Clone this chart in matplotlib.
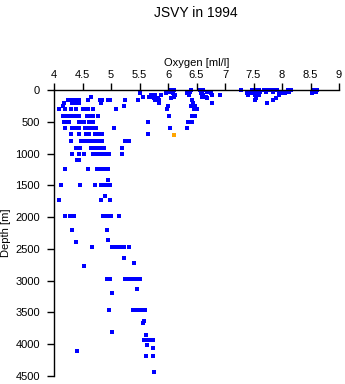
import matplotlib
matplotlib.use("Agg")
import matplotlib.pyplot as plt

# depth levels [m] and the oxygen readings [ml/l] found at each level
depth_levels = [5, 25, 55, 80, 105, 130, 160, 210, 250, 305, 405, 510, 605, 700,
                805, 905, 1000, 1105, 1250, 1420, 1495, 1660, 1737, 1990, 2210,
                2358, 2390, 2474, 2642, 2721, 2763, 2974, 3132, 3195, 3463, 3632,
                3668, 3810, 3852, 3926, 4016, 4053, 4105, 4190, 4432]
oxygen_at_level = [
    [6.05, 6.1, 6.4, 6.56, 6.62, 7.28, 7.47, 7.52, 7.6, 7.68, 7.75, 7.8, 7.88, 7.92, 8.1, 8.15, 8.55, 8.62],
    [6.0, 6.04, 6.38, 6.6, 6.68, 7.45, 7.5, 7.55, 7.62, 7.72, 7.85, 7.95, 8.12, 8.6],
    [5.5, 5.97, 6.08, 6.33, 6.58, 6.75, 7.38, 7.43, 7.5, 7.58, 8.0, 8.05, 8.53],
    [5.7, 5.77, 5.88, 6.12, 6.36, 6.62, 6.78, 6.92, 7.4, 7.52, 7.6, 7.95],
    [4.65, 5.56, 5.66, 5.72, 5.76, 6.1, 6.6, 6.66],
    [5.75, 5.82, 6.05, 6.68, 7.55, 7.9],
    [4.24, 4.32, 4.38, 4.44, 4.59, 4.8, 4.85, 4.94, 4.98, 5.25, 5.47, 5.78, 5.84, 6.42, 7.53, 7.85],
    [4.18, 4.32, 4.38, 4.43, 4.82, 5.84, 6.44, 6.78, 7.73],
    [4.16, 5.22, 6.0, 6.41, 6.47],
    [4.09, 4.19, 4.29, 4.38, 4.5, 4.55, 4.6, 4.68, 5.09, 5.98, 6.45, 6.5],
    [4.16, 4.22, 4.28, 4.31, 4.38, 4.44, 4.58, 4.63, 4.68, 4.78, 6.02, 6.42, 6.47],
    [4.18, 4.22, 4.27, 4.43, 4.47, 4.53, 4.62, 4.68, 5.65, 6.35, 6.42],
    [4.2, 4.31, 4.37, 4.44, 4.55, 4.6, 4.65, 4.7, 4.74, 5.06, 6.04, 6.33],
    [4.29, 4.43, 4.56, 4.62, 4.72, 4.78, 4.85, 5.65],
    [4.3, 4.48, 4.53, 4.57, 4.63, 4.68, 4.74, 4.8, 4.85, 5.25, 5.31],
    [4.38, 4.45, 4.65, 4.71, 4.75, 4.8, 4.85, 4.88, 5.19],
    [4.32, 4.44, 4.53, 4.68, 4.76, 4.8, 4.85, 4.9, 4.97, 5.19],
    [4.4, 4.43],
    [4.19, 4.6, 4.76, 4.8, 4.85, 4.9, 4.94],
    [4.94],
    [4.13, 4.45, 4.72, 4.82, 4.86, 4.9, 4.95, 4.98],
    [4.9],
    [4.09, 4.82, 4.98],
    [4.19, 4.28, 4.33, 4.35, 4.86, 4.9, 4.95, 5.0, 5.14],
    [4.32, 4.93],
    [4.94],
    [4.38],
    [4.66, 5.02, 5.06, 5.1, 5.14, 5.18, 5.22, 5.31],
    [5.22],
    [5.4],
    [4.53],
    [4.93, 4.99, 5.24, 5.28, 5.32, 5.36, 5.4, 5.44, 5.48, 5.51],
    [5.46],
    [5.01],
    [4.96, 5.38, 5.42, 5.46, 5.49, 5.55, 5.59],
    [5.58],
    [5.57],
    [5.01],
    [5.61],
    [5.58, 5.62, 5.66, 5.7, 5.74],
    [5.64],
    [5.74],
    [4.41],
    [5.62, 5.74],
    [5.75],
]
# single flagged sample
flag_oxygen = [6.1]
flag_depth = [710]

x_ticks = [4, 4.5, 5, 5.5, 6, 6.5, 7, 7.5, 8, 8.5, 9]
x_tick_labels = ['4', '4.5', '5', '5.5', '6', '6.5', '7', '7.5', '8', '8.5', '9']
y_ticks = [0, 500, 1000, 1500, 2000, 2500, 3000, 3500, 4000, 4500]

oxy = []
dep = []
for d, vals in zip(depth_levels, oxygen_at_level):
    for v in vals:
        oxy.append(v)
        dep.append(d)

plt.rcParams['font.family'] = ['Liberation Sans', 'DejaVu Sans']

fig = plt.figure(figsize=(3.45, 3.84), dpi=100)
ax = fig.add_axes([54 / 345, 1 - 376 / 384, 285 / 345, 286 / 384])

ax.scatter(oxy, dep, s=5, marker='s', color='#0000ff', linewidths=0,
           antialiased=False, clip_on=False)
ax.scatter(flag_oxygen, flag_depth, s=5, marker='s', color='#ffa500',
           linewidths=0, antialiased=False)

ax.set_xlim(4, 9)
ax.set_ylim(4500, 0)
ax.xaxis.set_ticks_position('top')
ax.xaxis.set_label_position('top')
ax.set_xticks(x_ticks)
ax.set_xticklabels(x_tick_labels)
ax.set_yticks(y_ticks)
ax.tick_params(axis='both', labelsize=8, length=5, width=1, direction='out', pad=2)
ax.tick_params(axis='y', pad=5)

ax.spines['right'].set_visible(False)
ax.spines['bottom'].set_visible(False)
ax.spines['left'].set_linewidth(1)
ax.spines['top'].set_linewidth(1)

ax.set_xlabel('Oxygen [ml/l]', fontsize=8, labelpad=3)
ax.set_ylabel('Depth [m]', fontsize=8, labelpad=3)
fig.text(196 / 345, 1 - 13 / 384, 'JSVY in 1994', ha='center', va='center', fontsize=10)

fig.savefig('out.png', dpi=100)
